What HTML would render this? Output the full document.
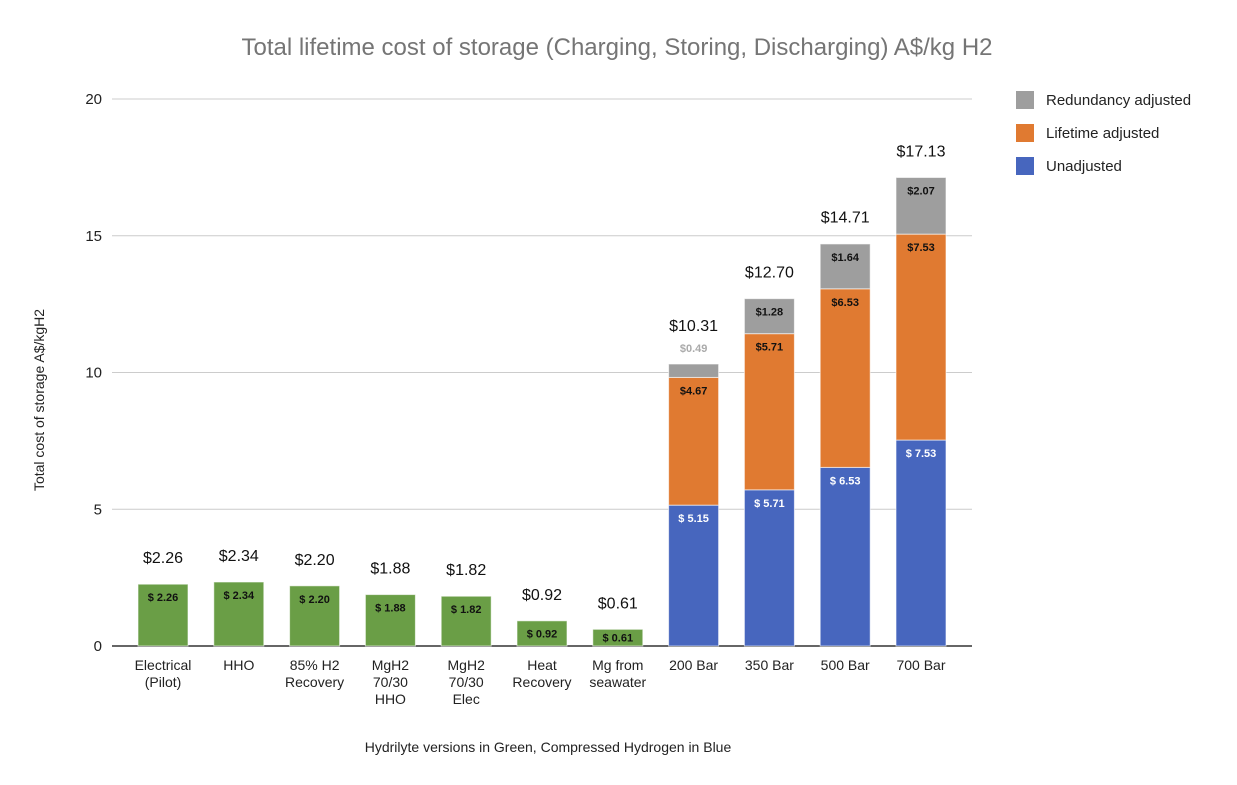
<!DOCTYPE html>
<html><head><meta charset="utf-8"><style>
body{margin:0;background:#fff;font-family:"Liberation Sans",sans-serif}
</style></head><body>
<svg id="c" width="1237" height="780" xmlns="http://www.w3.org/2000/svg" font-family="Liberation Sans, sans-serif">
<text x="617" y="55" text-anchor="middle" font-size="24" fill="#757575">Total lifetime cost of storage (Charging, Storing, Discharging) A$/kg H2</text>
<text transform="translate(44,400) rotate(-90)" text-anchor="middle" font-size="14" fill="#222">Total cost of storage A$/kgH2</text>
<text x="548" y="752" text-anchor="middle" font-size="14" fill="#222">Hydrilyte versions in Green, Compressed Hydrogen in Blue</text>
<g id="grid"></g><g id="bars"></g><g id="labels"></g>
<g>
<rect x="1016" y="91" width="18" height="18" fill="#9e9e9e"/>
<text x="1046" y="105" font-size="15" fill="#222">Redundancy adjusted</text>
<rect x="1016" y="124" width="18" height="18" fill="#e07a31"/>
<text x="1046" y="138" font-size="15" fill="#222">Lifetime adjusted</text>
<rect x="1016" y="157" width="18" height="18" fill="#4766be"/>
<text x="1046" y="171" font-size="15" fill="#222">Unadjusted</text>
</g>
</svg>
<script>
const categories=[["Electrical","(Pilot)"],["HHO"],["85% H2","Recovery"],["MgH2","70/30","HHO"],["MgH2","70/30","Elec"],["Heat","Recovery"],["Mg from","seawater"],["200 Bar"],["350 Bar"],["500 Bar"],["700 Bar"]];
const hydrilyte=[2.26,2.34,2.20,1.88,1.82,0.92,0.61,0,0,0,0];
const unadjusted=[0,0,0,0,0,0,0,5.15,5.71,6.53,7.53];
const lifetime=[0,0,0,0,0,0,0,4.67,5.71,6.53,7.53];
const redundancy=[0,0,0,0,0,0,0,0.49,1.28,1.64,2.07];
const totals=[2.26,2.34,2.20,1.88,1.82,0.92,0.61,10.31,12.70,14.71,17.13];
const yTicks=[0,5,10,15,20];
const NS="http://www.w3.org/2000/svg";
const y=v=>646-v*27.35;
const xc=i=>163+i*75.8;
const BW=50;
function mk(t,a,p){const e=document.createElementNS(NS,t);for(const k in a)e.setAttribute(k,a[k]);p.appendChild(e);return e;}
const G=document.getElementById('grid'),B=document.getElementById('bars'),L=document.getElementById('labels');
yTicks.forEach(v=>{
 const l=mk('line',{x1:112,x2:972,y1:y(v),y2:y(v),stroke:v===0?'#333':'#ccc','stroke-width':v===0?1.5:1},G);
 
 
 const t=mk('text',{x:102,y:y(v)+5,'text-anchor':'end','font-size':15,fill:'#222'},G);t.textContent=v;
 
 
});
const fmt=v=>v.toFixed(2);
categories.forEach((c,i)=>{
 const x=xc(i)-BW/2;
 const segs=[[hydrilyte[i],'#6a9e46','hydrilyte','$ ','#111'],[unadjusted[i],'#4766be','unadjusted','$ ','#fff'],[lifetime[i],'#e07a31','lifetime','$','#111'],[redundancy[i],'#9e9e9e','redundancy','$','#111']];
 let base=0;
 segs.forEach(s=>{
  if(!s[0])return;
  const r=mk('rect',{x:x,y:y(base+s[0]),width:BW,height:y(base)-y(base+s[0]),fill:s[1],stroke:'rgba(255,255,255,0.6)','stroke-width':1},B);
  
  
  const small=s[2]==='redundancy'&&(y(base)-y(base+s[0]))<18;
  const hgt=y(base)-y(base+s[0]);
  const ty=small?y(base+s[0])-12:y(base+s[0])+Math.min(17,hgt/2+4);
  const t=mk('text',{x:xc(i),y:ty,'text-anchor':'middle','font-size':11,'font-weight':'bold',fill:small?'#aaa':s[4]},L);
  t.textContent=s[3]+fmt(s[0]);
  
  
  base+=s[0];
 });
 const small=redundancy[i]&&(y(0)-y(redundancy[i]))<18;
 const tt=mk('text',{x:xc(i),y:y(totals[i])-(small?33:21),'text-anchor':'middle','font-size':16,fill:'#111'},L);
 tt.textContent='$'+fmt(totals[i]);
 
 
 c.forEach((line,j)=>{
  const t=mk('text',{x:xc(i),y:670+j*17,'text-anchor':'middle','font-size':14,fill:'#222'},L);
  t.textContent=line;
  
  
 });
});
</script>
</body></html>
